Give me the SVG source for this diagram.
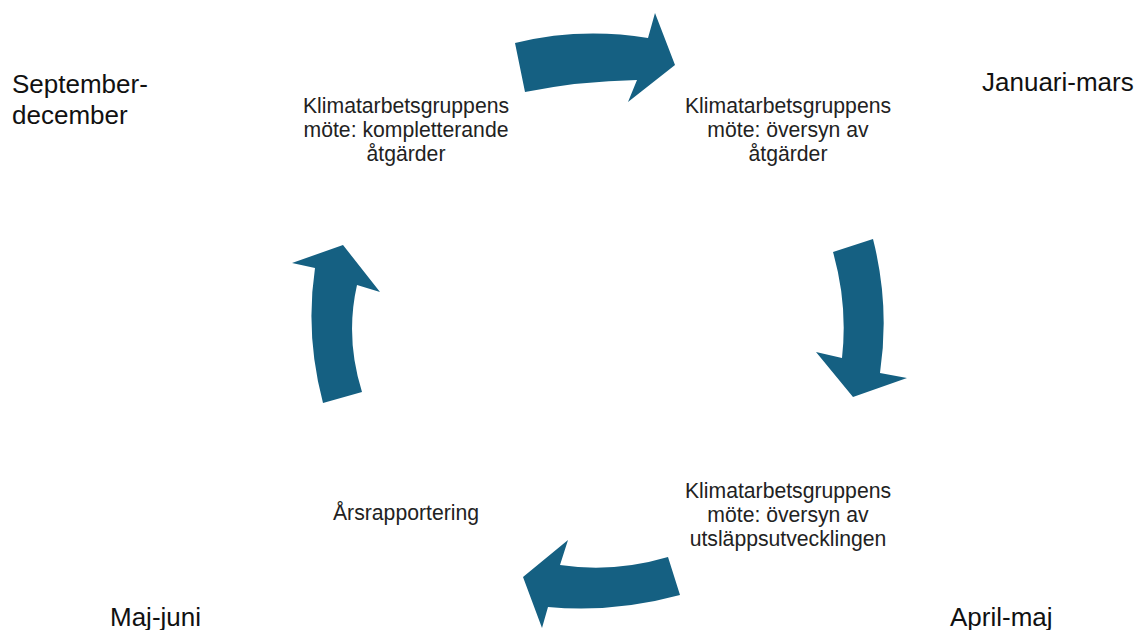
<svg xmlns="http://www.w3.org/2000/svg" width="1134" height="630" viewBox="0 0 1134 630">
<style>
.arrow{fill:#156082;stroke:none}
.node{font-family:"Liberation Sans",Arial,sans-serif;font-size:21.2px;fill:#222;text-anchor:middle}
.period{font-family:"Liberation Sans",Arial,sans-serif;font-size:26px;fill:#111}
</style>
<rect width="1134" height="630" fill="#fff"/>
<g id="connectors">
<path class="arrow" d="M515,43 Q580,27 648,38 L655,13 L675,65 L628,102 L637,80 Q580,81 525,92 Z"/>
<path class="arrow" d="M833,252 L873,239 Q890,306 880,373 L907,378 L853,397 L816,352 L842,358 Q848,305 833,252 Z"/>
<path class="arrow" d="M668,557 L680,595 Q614,613 548,607 L542,628 L523,577 L568,540 L560,565 Q614,573 668,557 Z"/>
<path class="arrow" d="M323,403 Q305,335 315,268 L292,263 L343,245 L380,292 L357,285 Q345,338 362,392 Z"/>
</g>
<g id="node-sep-dec">
<text class="period" x="12" y="93">September-</text>
<text class="period" x="12" y="124">december</text>
</g>
<g id="node-jan-mar">
<text class="period" x="982" y="91">Januari-mars</text>
</g>
<g id="node-apr-maj">
<text class="period" x="950" y="626">April-maj</text>
</g>
<g id="node-maj-jun">
<text class="period" x="110" y="626">Maj-juni</text>
</g>
<g id="node-kompletterande">
<text class="node" x="406" y="113">Klimatarbetsgruppens</text>
<text class="node" x="406" y="137">möte: kompletterande</text>
<text class="node" x="406" y="161">åtgärder</text>
</g>
<g id="node-oversyn-atgarder">
<text class="node" x="788" y="113">Klimatarbetsgruppens</text>
<text class="node" x="788" y="137">möte: översyn av</text>
<text class="node" x="788" y="161">åtgärder</text>
</g>
<g id="node-oversyn-utslapp">
<text class="node" x="788" y="498">Klimatarbetsgruppens</text>
<text class="node" x="788" y="522">möte: översyn av</text>
<text class="node" x="788" y="546">utsläppsutvecklingen</text>
</g>
<g id="node-arsrapportering">
<text class="node" x="406" y="520">Årsrapportering</text>
</g>
</svg>
